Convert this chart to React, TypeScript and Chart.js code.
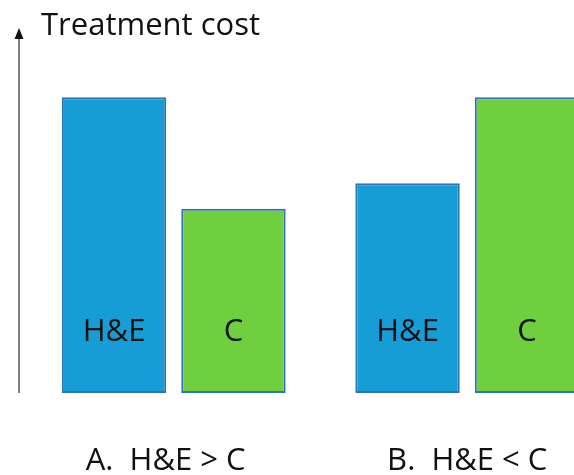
import React, { useEffect, useRef } from "react";
import { Chart, registerables } from "chart.js";

Chart.register(...registerables);

const categories = ["A.  H&E > C  ", "B.  H&E < C"];
const seriesNames = ["H&E", "C"];
const heValues = [8.1, 5.75];
const cValues = [5.05, 8.1];
const axisTitle = "Treatment cost";
const yMax = 10;

const FONT = "'Open Sans', 'DejaVu Sans', sans-serif";

const decorPlugin = {
  id: "decor",
  afterDatasetsDraw(chart: any) {
    const { ctx, chartArea } = chart;
    ctx.save();
    // labels inside bars
    ctx.font = `31px ${FONT}`;
    ctx.fillStyle = "#111111";
    ctx.textAlign = "center";
    ctx.textBaseline = "middle";
    chart.data.datasets.forEach((ds: any, di: number) => {
      const meta = chart.getDatasetMeta(di);
      meta.data.forEach((bar: any) => {
        ctx.fillText(ds.label, bar.x, chartArea.bottom - 61);
      });
    });
    // axis arrow
    const ax = chartArea.left - 8;
    ctx.strokeStyle = "#555555";
    ctx.lineWidth = 1.5;
    ctx.beginPath();
    ctx.moveTo(ax, chartArea.bottom);
    ctx.lineTo(ax, chartArea.top + 10);
    ctx.stroke();
    ctx.fillStyle = "#111111";
    ctx.beginPath();
    ctx.moveTo(ax, chartArea.top);
    ctx.lineTo(ax - 4.5, chartArea.top + 11);
    ctx.lineTo(ax + 4.5, chartArea.top + 11);
    ctx.closePath();
    ctx.fill();
    // axis title
    ctx.font = `31px ${FONT}`;
    ctx.textAlign = "left";
    ctx.textBaseline = "alphabetic";
    ctx.fillStyle = "#111111";
    ctx.fillText(axisTitle, chartArea.left + 14, 35);
    ctx.restore();
  },
};

export default function App() {
  const ref = useRef<HTMLCanvasElement | null>(null);
  useEffect(() => {
    if (!ref.current) return;
    const chart = new Chart(ref.current, {
      type: "bar",
      data: {
        labels: categories,
        datasets: [
          {
            label: seriesNames[0],
            data: heValues,
            backgroundColor: "#179dd6",
            borderColor: "#2e74b5",
            borderWidth: 2,
            borderSkipped: false,
            categoryPercentage: 0.814,
            barPercentage: 0.874,
          },
          {
            label: seriesNames[1],
            data: cValues,
            backgroundColor: "#6fcf3e",
            borderColor: "#2e74b5",
            borderWidth: 2,
            borderSkipped: false,
            categoryPercentage: 0.814,
            barPercentage: 0.874,
          },
        ],
      },
      options: {
        animation: false,
        responsive: false,
        layout: { padding: { left: 27, right: 6, top: 28, bottom: 0 } },
        plugins: {
          legend: { display: false },
          title: { display: false },
          tooltip: { enabled: false },
        },
        scales: {
          x: {
            grid: { display: false },
            border: { display: false },
            ticks: {
              color: "#111111",
              padding: 45,
              maxRotation: 0,
              autoSkip: false,
              font: { family: FONT, size: 31, lineHeight: 1.0 },
            },
            afterFit(scale: any) {
              scale.height = 82;
            },
          },
          y: {
            display: false,
            min: 0,
            max: yMax,
          },
        },
      },
      plugins: [decorPlugin],
    });
    return () => chart.destroy();
  }, []);
  return (
    <div
      style={{
        position: "fixed",
        left: 0,
        top: 0,
        width: 574,
        height: 475,
        overflow: "hidden",
        background: "#ffffff",
      }}
    >
      <canvas ref={ref} width={620} height={475} style={{ width: 620, height: 475 }} />
    </div>
  );
}
